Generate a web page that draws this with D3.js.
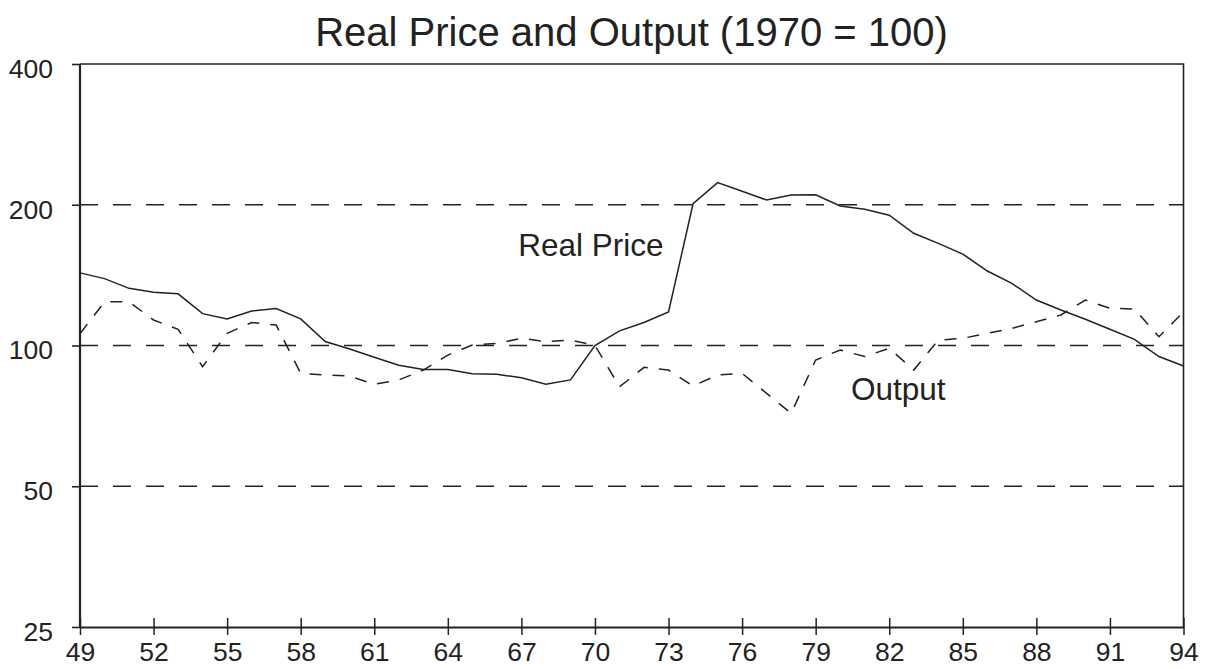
<!DOCTYPE html>
<html>
<head>
<meta charset="utf-8">
<script src="https://cdn.jsdelivr.net/npm/d3@7"></script>
<style>
  body { margin: 0; background: #fff; }
  text { font-family: "Liberation Sans", Arial, sans-serif; fill: #222; }
</style>
</head>
<body>
<svg id="chart" width="1212" height="669"></svg>
<script>
const years = d3.range(49, 95);
const realPrice = [
  143, 139, 132.5, 130, 129, 117, 114, 118.5, 120, 114,
  102, 98.3, 94.4, 90.7, 88.9, 88.9, 87, 86.8, 85.3, 82.6,
  84.4, 100, 107.5, 112, 118, 201, 223, 213.7, 204.7, 209.8,
  210, 198.8, 195.6, 190, 173.8, 165.4, 156.9, 144.3, 135.8, 125.1,
  119.1, 113.8, 108.3, 103.1, 94.7, 90.4
];
const output = [
  106, 124, 124, 113.4, 108.3, 90.1, 106.2, 112, 110.6, 87.2,
  86.5, 86, 82.6, 84.4, 88.6, 95.4, 100.2, 101, 103.6, 101.9,
  102.7, 100, 81.6, 89.8, 88.6, 81.9, 86.5, 87.2, 79, 71.6,
  93.1, 97.8, 94.7, 98.6, 88.6, 102.7, 103.6, 106.2, 108.8, 112.4,
  116.2, 125.1, 120.1, 119.7, 104.4, 118
];
const xTicks = d3.range(49, 95, 3);
const yTicks = [25, 50, 100, 200, 400];
const gridValues = [50, 100, 200];

const margin = { top: 64, right: 28.5, bottom: 42, left: 80 };
const width = 1212 - margin.left - margin.right;
const height = 669 - margin.top - margin.bottom;

const x = d3.scaleLinear().domain([49, 94]).range([0, width]);
const y = d3.scaleLog().base(2).domain([25, 400]).range([height, 0]);

const svg = d3.select('#chart');
const chart = svg.append('g')
  .attr('transform', `translate(${ margin.left }, ${ margin.top })`);

svg.append('text')
  .attr('x', 631.5)
  .attr('y', 46)
  .attr('text-anchor', 'middle')
  .style('font-size', '40px')
  .text('Real Price and Output (1970 = 100)');

// dashed reference lines
chart.selectAll('.grid')
  .data(gridValues)
  .enter()
  .append('line')
  .attr('x1', 0)
  .attr('x2', width)
  .attr('y1', d => y(d))
  .attr('y2', d => y(d))
  .attr('stroke', '#222')
  .attr('stroke-width', 1.4)
  .attr('stroke-dasharray', '18,15');

// frame: top, right
chart.append('path')
  .attr('d', `M0,0H${ width }V${ height }`)
  .attr('fill', 'none')
  .attr('stroke', '#222')
  .attr('stroke-width', 1.6);

const xAxis = d3.axisBottom(x)
  .tickValues(xTicks)
  .tickSize(0)
  .tickPadding(15);
const yAxis = d3.axisLeft(y)
  .tickValues(yTicks)
  .tickFormat(d3.format('d'))
  .tickSize(8)
  .tickPadding(19);

const gx = chart.append('g')
  .attr('transform', `translate(0, ${ height })`)
  .call(xAxis);
gx.select('.domain').attr('stroke', '#222').attr('stroke-width', 2.2);
gx.selectAll('.tick line').remove();
gx.selectAll('.tick')
  .append('line')
  .attr('y1', -9)
  .attr('y2', 8)
  .attr('stroke', '#222')
  .attr('stroke-width', 1.5);
gx.selectAll('text')
  .attr('dy', '0.71em')
  .style('font-size', '26.5px')
  .style('font-family', '"Liberation Sans", Arial, sans-serif');

const gy = chart.append('g').call(yAxis);
gy.select('.domain').attr('stroke', '#222').attr('stroke-width', 2.2)
  .attr('d', `M0,0V${ height }`);
gy.selectAll('.tick line').attr('stroke', '#222').attr('stroke-width', 1.6);
gy.selectAll('text')
  .attr('dy', '0.5em')
  .style('font-size', '26.5px')
  .style('font-family', '"Liberation Sans", Arial, sans-serif');

const line = d3.line()
  .x((d, i) => x(years[i]))
  .y(d => y(d));

chart.append('path')
  .datum(realPrice)
  .attr('d', line)
  .attr('fill', 'none')
  .attr('stroke', '#222')
  .attr('stroke-width', 1.5);

chart.append('path')
  .datum(output)
  .attr('d', line)
  .attr('fill', 'none')
  .attr('stroke', '#222')
  .attr('stroke-width', 1.5)
  .attr('stroke-dasharray', '12,11');

chart.append('text')
  .attr('x', x(66.87))
  .attr('y', y(155.4))
  .style('font-size', '31.5px')
  .text('Real Price');

chart.append('text')
  .attr('x', x(80.44))
  .attr('y', y(76.5))
  .style('font-size', '31.5px')
  .text('Output');
</script>
</body>
</html>
